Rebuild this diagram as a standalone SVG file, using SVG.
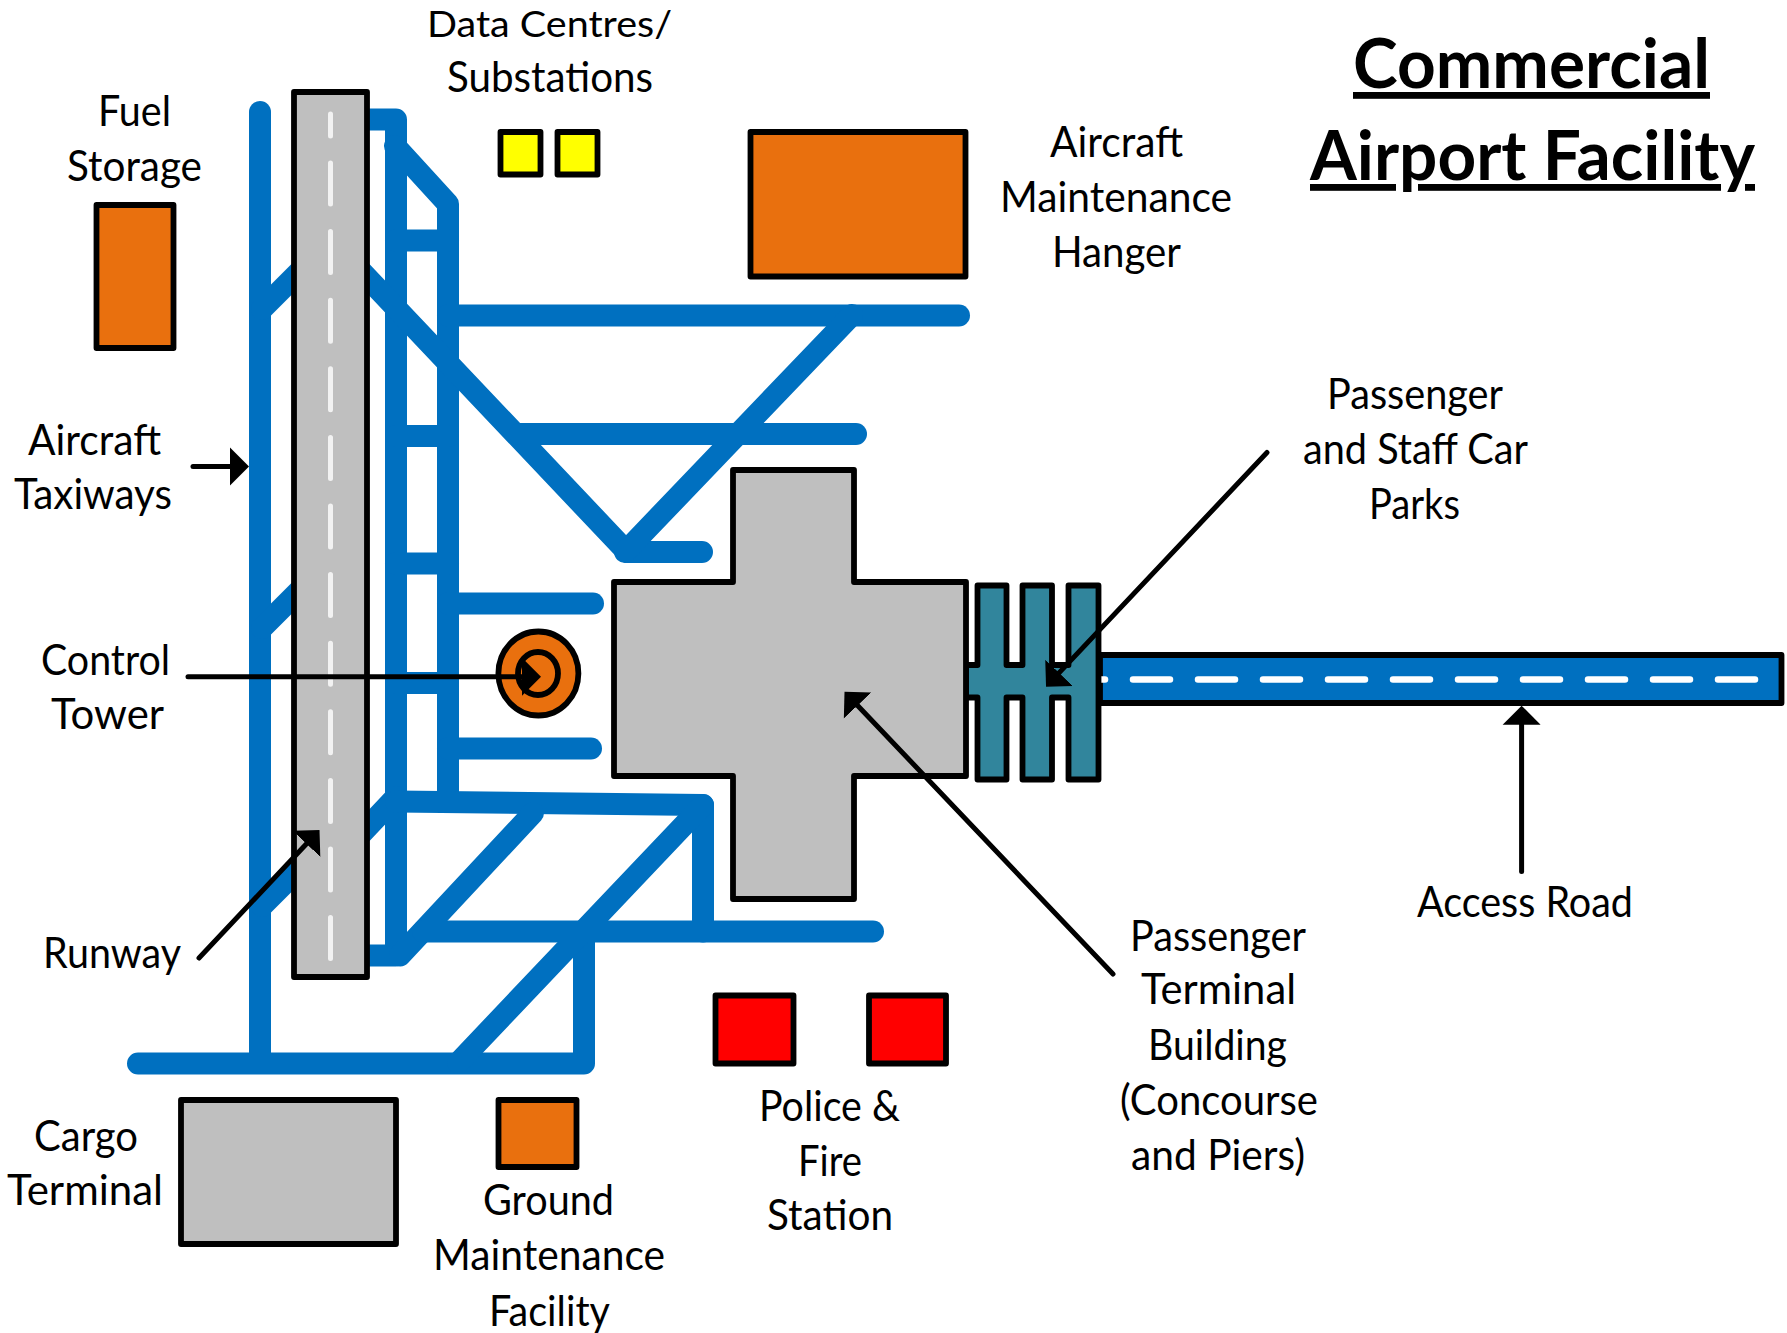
<svg xmlns="http://www.w3.org/2000/svg" width="1787" height="1333" viewBox="0 0 1787 1333">
<style>
.b{fill:none;stroke:#0070C0;stroke-width:22;stroke-linecap:round;stroke-linejoin:round}
.s{stroke:#000;stroke-width:5.8;stroke-linejoin:round}
.g{fill:#BFBFBF}.o{fill:#E9700E}.y{fill:#FF0}.r{fill:#F00}.t{fill:#31859C}
.a{fill:none;stroke:#000;stroke-width:5;stroke-linecap:round;marker-end:url(#ah)}
text{font-family:Lato,"Liberation Sans",sans-serif;font-size:42px;fill:#000}
.h{font-weight:700;font-size:68px;text-decoration:underline}
</style>
<defs>
<marker id="ah" markerUnits="userSpaceOnUse" markerWidth="20" markerHeight="40" viewBox="0 0 20 40" refX="9" refY="20" orient="auto"><path d="M0,1 L19,20 L0,39 Z" fill="#000"/></marker>
</defs>
<rect width="1787" height="1333" fill="#fff"/>
<g id="taxiways">
<path class="b" d="M260,112 V1063"/>
<path class="b" d="M138,1063.5 H584 V931.5"/>
<path class="b" d="M369,119.5 H396 V955.5 H369"/>
<path class="b" d="M395,146 L448,204 V801"/>
<path class="b" d="M396,240.5 H448"/>
<path class="b" d="M448,315.5 H959"/>
<path class="b" d="M396,436 H448"/>
<path class="b" d="M396,563.5 H448"/>
<path class="b" d="M448,603.5 H593"/>
<path class="b" d="M396,683 H448"/>
<path class="b" d="M448,748.5 H591"/>
<path class="b" d="M360,270 L627,552 H702"/>
<path class="b" d="M625,552 L852,315"/>
<path class="b" d="M520,434 H856"/>
<path class="b" d="M262,309 L300,271"/>
<path class="b" d="M262,628 L300,590"/>
<path class="b" d="M262,906 L300,868"/>
<path class="b" d="M362,833 L396,797"/>
<path class="b" d="M396,801.5 L703,805 V931.5"/>
<path class="b" d="M703,805 L458,1063"/>
<path class="b" d="M400,955.5 L533,813"/>
<path class="b" d="M423,931.5 H873"/>
</g>
<g id="runway">
<rect class="s g" x="294" y="92" width="73" height="885"/>
<path d="M330.5,114 V136" stroke="#F2F2F2" stroke-width="5" stroke-linecap="round"/>
<path d="M330.5,163 V959" fill="none" stroke="#F2F2F2" stroke-width="5" stroke-linecap="round" stroke-dasharray="41 27.6"/>
</g>
<g id="access-road">
<rect class="s" fill="#0070C0" x="1100" y="655" width="681.5" height="48"/>
<path d="M1133,679.5 H1755" fill="none" stroke="#fff" stroke-width="6.5" stroke-linecap="round" stroke-dasharray="37 28"/>
<path d="M1100,679.5 H1105" fill="none" stroke="#fff" stroke-width="6.5" stroke-linecap="round"/>
</g>
<g id="car-parks"><path class="s t" d="M966,665 H977.5 V585.5 H1006.5 V665 H1022.5 V585.5 H1052 V665 H1068.5 V585.5 H1098.5 V779.5 H1068.5 V697.5 H1052 V779.5 H1022.5 V697.5 H1006.5 V779.5 H977.5 V697.5 H966 Z"/></g>
<g id="terminal"><path class="s g" d="M733,470 H854 V582 H966 V776 H854 V899 H733 V776 H614 V582 H733 Z"/></g>
<g id="control-tower"><ellipse class="s o" cx="538.4" cy="673.5" rx="40" ry="42"/><ellipse class="s o" cx="538" cy="673.5" rx="20" ry="21.5"/></g>
<g id="substations"><rect class="s y" x="500.5" y="132" width="40" height="42.5"/><rect class="s y" x="557.5" y="132" width="40" height="42.5"/></g>
<g id="hangar"><rect class="s o" x="750.5" y="132" width="215" height="144.5"/></g>
<g id="fuel-storage"><rect class="s o" x="96.5" y="205" width="77" height="143"/></g>
<g id="police-fire"><rect class="s r" x="715.5" y="995.5" width="78" height="68"/><rect class="s r" x="869" y="995.5" width="77" height="68"/></g>
<g id="cargo-terminal"><rect class="s g" x="181" y="1100" width="215" height="144"/></g>
<g id="ground-maintenance"><rect class="s o" x="498.5" y="1100" width="78" height="67"/></g>
<g id="connectors">
<path class="a" d="M193,466.5 H239"/>
<path class="a" d="M188,676.7 H531"/>
<path class="a" d="M199,958 L312.65,837.3"/>
<path class="a" d="M1113,974 L851.4,699"/>
<path class="a" d="M1267,452.5 L1052.9,679.4"/>
<path class="a" d="M1521.6,871.6 V715.7"/>
</g>
<g id="labels">
<text class="h" x="1353" y="88" textLength="357" lengthAdjust="spacingAndGlyphs">Commercial</text>
<text class="h" x="1310" y="180" textLength="445" lengthAdjust="spacingAndGlyphs">Airport Facility</text>
<text style="font-size:37.5px" x="427" y="37" textLength="245" lengthAdjust="spacingAndGlyphs">Data Centres/</text>
<text x="447" y="92" textLength="206" lengthAdjust="spacingAndGlyphs">Substations</text>
<text x="98" y="126" textLength="73" lengthAdjust="spacingAndGlyphs">Fuel</text>
<text x="67" y="181" textLength="135" lengthAdjust="spacingAndGlyphs">Storage</text>
<text x="28" y="455" textLength="133" lengthAdjust="spacingAndGlyphs">Aircraft</text>
<text x="14" y="509" textLength="158" lengthAdjust="spacingAndGlyphs">Taxiways</text>
<text x="41" y="675" textLength="129" lengthAdjust="spacingAndGlyphs">Control</text>
<text x="51" y="729" textLength="113" lengthAdjust="spacingAndGlyphs">Tower</text>
<text x="43" y="968" textLength="138" lengthAdjust="spacingAndGlyphs">Runway</text>
<text x="34" y="1151" textLength="104" lengthAdjust="spacingAndGlyphs">Cargo</text>
<text x="7" y="1205" textLength="156" lengthAdjust="spacingAndGlyphs">Terminal</text>
<text x="483" y="1215" textLength="131" lengthAdjust="spacingAndGlyphs">Ground</text>
<text x="433" y="1270" textLength="232" lengthAdjust="spacingAndGlyphs">Maintenance</text>
<text x="489" y="1326" textLength="121" lengthAdjust="spacingAndGlyphs">Facility</text>
<text x="759" y="1121" textLength="141" lengthAdjust="spacingAndGlyphs">Police &amp;</text>
<text x="798" y="1176" textLength="64" lengthAdjust="spacingAndGlyphs">Fire</text>
<text x="767" y="1230" textLength="126" lengthAdjust="spacingAndGlyphs">Station</text>
<text x="1130" y="951" textLength="176" lengthAdjust="spacingAndGlyphs">Passenger</text>
<text x="1141" y="1004" textLength="155" lengthAdjust="spacingAndGlyphs">Terminal</text>
<text x="1148" y="1060" textLength="139" lengthAdjust="spacingAndGlyphs">Building</text>
<text x="1120" y="1115" textLength="198" lengthAdjust="spacingAndGlyphs">(Concourse</text>
<text x="1131" y="1170" textLength="174" lengthAdjust="spacingAndGlyphs">and Piers)</text>
<text x="1417" y="917" textLength="216" lengthAdjust="spacingAndGlyphs">Access Road</text>
<text x="1327" y="409" textLength="176" lengthAdjust="spacingAndGlyphs">Passenger</text>
<text x="1303" y="464" textLength="225" lengthAdjust="spacingAndGlyphs">and Staff Car</text>
<text x="1369" y="519" textLength="91" lengthAdjust="spacingAndGlyphs">Parks</text>
<text x="1050" y="157" textLength="133" lengthAdjust="spacingAndGlyphs">Aircraft</text>
<text x="1000" y="212" textLength="232" lengthAdjust="spacingAndGlyphs">Maintenance</text>
<text x="1052" y="267" textLength="129" lengthAdjust="spacingAndGlyphs">Hanger</text>
</g>
</svg>
